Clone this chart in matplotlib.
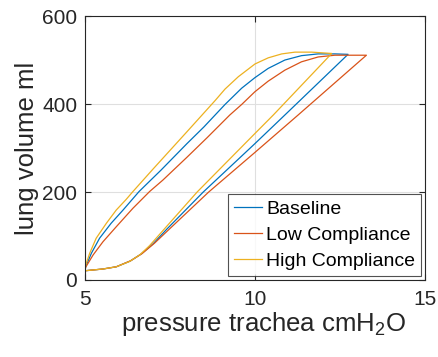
import matplotlib
matplotlib.use("Agg")
import matplotlib.pyplot as plt

# pressure (cmH2O) / volume (ml) loops
# each loop: inspiration branch (upper) then expiration branch (lower)
base_p_in = [5.0, 5.02, 5.19, 5.43, 5.77, 6.12, 6.59, 7.24, 8.0, 8.5, 9.12, 9.61, 10.0,
             10.39, 10.88, 11.37, 11.86, 12.35, 12.74]
base_v_in = [20, 30, 61, 95, 129, 159, 201, 250, 310, 348, 399, 436, 460,
             481, 500, 510, 514, 514, 513]
base_p_ex = [12.74, 10.88, 10.0, 8.48, 7.4, 7.0, 6.65, 6.33, 5.92, 5.53, 5.0]
base_v_ex = [513, 375, 310, 200, 115, 82, 59, 43, 30, 25, 21]

low_p_in = [5.0, 5.02, 5.24, 5.53, 5.92, 6.41, 6.9, 7.29, 8.0, 8.6, 9.26, 9.61, 10.0,
            10.39, 10.88, 11.37, 11.86, 12.35, 12.8, 13.28]
low_v_in = [20, 29, 57, 87, 121, 163, 201, 227, 279, 324, 375, 399, 428,
            452, 477, 496, 507, 511, 511, 511]
low_p_ex = [13.28, 11.27, 10.0, 8.64, 7.5, 7.05, 6.68, 6.35, 5.92, 5.53, 5.0]
low_v_ex = [511, 375, 290, 200, 117, 84, 60, 44, 30, 25, 21]

high_p_in = [5.0, 5.02, 5.14, 5.33, 5.63, 5.92, 6.21, 6.41, 7.0, 8.0, 8.83, 9.12, 9.51,
             10.0, 10.39, 10.79, 11.18, 11.67, 12.26]
high_v_in = [20, 34, 61, 95, 129, 159, 183, 201, 252, 337, 408, 434, 462,
             491, 505, 514, 518, 518, 515]
high_p_ex = [12.26, 10.54, 10.0, 8.3, 7.29, 6.9, 6.61, 6.31, 5.92, 5.53, 5.0]
high_v_ex = [515, 375, 333, 200, 112, 78, 57, 42, 30, 25, 21]

labels = ["Baseline", "Low Compliance", "High Compliance"]
colors = ["#0072BD", "#D95319", "#EDB120"]

plt.rcParams['font.family'] = ['Liberation Sans', 'DejaVu Sans']
plt.rcParams['mathtext.fontset'] = 'custom'
plt.rcParams['mathtext.rm'] = 'Liberation Sans'
plt.rcParams['mathtext.it'] = 'Liberation Sans'

fig = plt.figure(figsize=(4.38, 3.57), dpi=100)
ax = fig.add_axes([0.194, 0.2157, 0.776, 0.7393])

loops = [(base_p_in + base_p_ex, base_v_in + base_v_ex),
         (low_p_in + low_p_ex, low_v_in + low_v_ex),
         (high_p_in + high_p_ex, high_v_in + high_v_ex)]
for (p, v), lab, c in zip(loops, labels, colors):
    ax.plot(p, v, color=c, lw=0.9, label=lab)

ax.set_xlim(5, 15)
ax.set_ylim(0, 600)
ax.set_xticks([5, 10, 15])
ax.set_yticks([0, 200, 400, 600])
ax.grid(True, color="#dfdfdf", lw=0.8)
ax.set_axisbelow(True)
ax.tick_params(direction="in", length=4, width=0.8, colors="#262626",
               labelsize=15, top=True, right=True)
ax.tick_params(axis="x", pad=7)
ax.tick_params(axis="y", pad=5.5)
for s in ax.spines.values():
    s.set_color("#262626")
    s.set_linewidth(0.8)

ax.set_xlabel("pressure trachea cmH$_2$O", fontsize=18.5, color="#262626", labelpad=1)
ax.xaxis.label.set_x(0.526)
ax.set_ylabel("lung volume ml", fontsize=18.5, color="#262626", labelpad=2)

leg = ax.legend(loc="lower right", fontsize=14, frameon=True, fancybox=False,
                borderpad=0.3, handlelength=1.45, handletextpad=0.2, labelspacing=0.45,
                borderaxespad=0.2)
leg.get_frame().set_edgecolor("#262626")
leg.get_frame().set_linewidth(0.8)

fig.savefig("out.png", dpi=100)
